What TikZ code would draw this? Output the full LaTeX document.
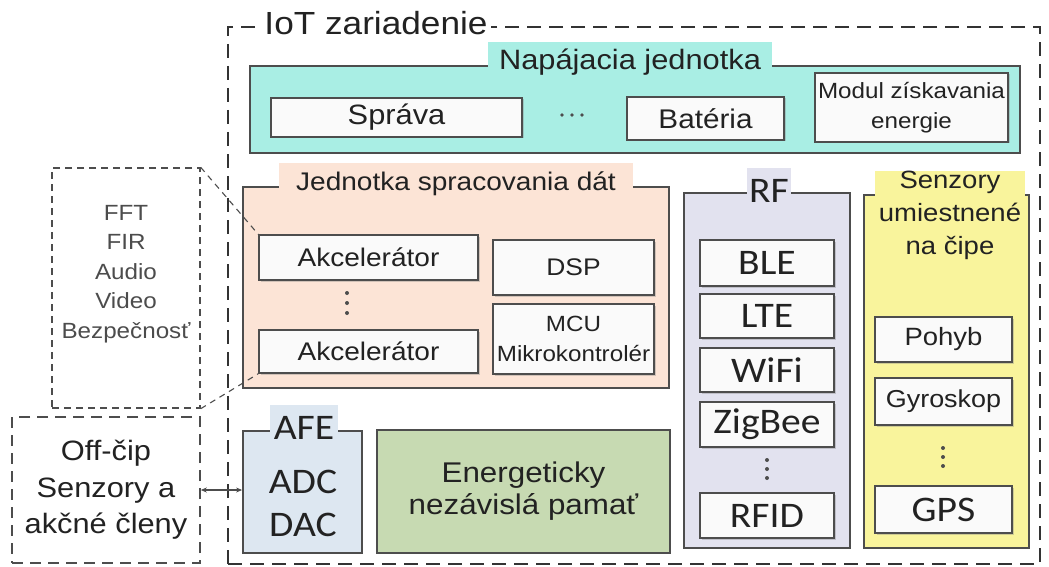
\documentclass[tikz,border=0pt]{standalone}
\usepackage{fontspec}
\setmainfont{Liberation Sans}[FakeStretch=1.1]
\newfontfamily\calib{Carlito}[FakeStretch=1.1]
\usetikzlibrary{arrows.meta,shadows}
\newcommand\fsz[2]{\fontsize{#1}{#2}\selectfont}
\definecolor{cyanF}{HTML}{A9EEE4}
\definecolor{peachF}{HTML}{FCE4D6}
\definecolor{lavF}{HTML}{E2E2EF}
\definecolor{yelF}{HTML}{F9F49C}
\definecolor{blueF}{HTML}{DDE7F1}
\definecolor{greenF}{HTML}{C7DAB2}
\definecolor{innerF}{HTML}{FAFAFA}
\definecolor{lineC}{HTML}{4D4D4D}
\definecolor{txtC}{HTML}{222222}
\tikzset{
  bigbox/.style={draw=lineC, line width=1.8pt, inner sep=0pt},
  inbox/.style={draw=lineC, line width=1.6pt, fill=innerF, inner sep=0pt,
     drop shadow={shadow xshift=1.5pt, shadow yshift=-1.5pt, opacity=0.35}},
  ttl/.style={inner ysep=0pt, text=txtC},
  dashbox/.style={draw=lineC, line width=1.4pt, dash pattern=on 7pt off 5pt, inner sep=0pt},
  dashlink/.style={draw=lineC, line width=1.1pt, dash pattern=on 6pt off 5pt},
  dotc/.style={fill=lineC}
}
\begin{document}
\begin{tikzpicture}[x=1pt,y=-1pt, every node/.style={text=txtC}]
\useasboundingbox (0,0) rectangle (1049,567);
% outer IoT box
\node[draw=black!80, line width=2.3pt, dash pattern=on 14pt off 8pt, minimum width=812pt, minimum height=537pt, inner sep=0pt] (iot) at (634,295.5) {};
\node[fill=white, font=\fsz{32}{36}, inner xsep=3pt, inner ysep=1pt] (iott) at (376,23) {IoT zariadenie};

% power unit
\node[bigbox, fill=cyanF, minimum width=770pt, minimum height=87pt] (power) at (635,109.5) {};
\node[ttl, fill=cyanF, font=\fsz{28}{32}, minimum height=40pt, inner xsep=11pt] (powert) at (630,62) {Napájacia jednotka};
\node[inbox, minimum width=251pt, minimum height=39pt, font=\fsz{28}{32}] (sprava) at (396.5,117.5) {Správa};
\fill[lineC] (562,115) circle (1.8pt) (572,115) circle (1.8pt) (582,115) circle (1.8pt);
\node[inbox, minimum width=157pt, minimum height=43pt, font=\fsz{27}{31}] (bateria) at (705.5,118.5) {Batéria};
\node[inbox, minimum width=193pt, minimum height=69pt, font=\fsz{22}{30}, align=center] (modul) at (911.5,107.5) {Modul získavania\\energie};

% data processing unit
\node[bigbox, fill=peachF, minimum width=426pt, minimum height=201pt] (dpu) at (456,287.5) {};
\node[ttl, fill=peachF, font=\fsz{25.5}{30}, minimum height=42pt, inner xsep=17pt] (dput) at (456,184) {Jednotka spracovania dát};
\node[inbox, minimum width=219pt, minimum height=45pt, font=\fsz{25.5}{30}] (akc1) at (368.5,257.5) {Akcelerátor};
\node[inbox, minimum width=219pt, minimum height=43pt, font=\fsz{25.5}{30}] (akc2) at (368.5,351.5) {Akcelerátor};
\fill[lineC] (347,293) circle (2pt) (347,303) circle (2pt) (347,313) circle (2pt);
\node[inbox, minimum width=161pt, minimum height=55pt, font=\fsz{24}{30}] (dsp) at (573.5,267.5) {DSP};
\node[inbox, minimum width=161pt, minimum height=70pt, font=\fsz{22}{30}, align=center] (mcu) at (573.5,339) {MCU\\Mikrokontrolér};

% RF
\node[bigbox, fill=lavF, minimum width=166pt, minimum height=355pt] (rf) at (767,370.5) {};
\node[ttl, fill=lavF, font=\calib\fsz{36}{40}, minimum height=46pt, inner xsep=2pt] (rft) at (769,191) {RF};
\node[inbox, minimum width=134pt, minimum height=46pt, font=\calib\fsz{36}{40}] (ble) at (767,263) {BLE};
\node[inbox, minimum width=134pt, minimum height=44pt, font=\calib\fsz{36}{40}] (lte) at (767,316) {LTE};
\node[inbox, minimum width=134pt, minimum height=44pt, font=\calib\fsz{36}{40}] (wifi) at (767,370) {WiFi};
\node[inbox, minimum width=134pt, minimum height=45pt, font=\calib\fsz{36}{40}] (zigbee) at (767,424.5) {ZigBee};
\fill[lineC] (767,460) circle (2pt) (767,469) circle (2pt) (767,478) circle (2pt);
\node[inbox, minimum width=134pt, minimum height=45pt, font=\calib\fsz{36}{40}] (rfid) at (767,515.5) {RFID};

% on-chip sensors
\node[bigbox, fill=yelF, minimum width=165pt, minimum height=353pt] (sens) at (946.5,371.5) {};
\node[ttl, fill=yelF, font=\fsz{25}{33}, align=center, inner xsep=4pt] (senst) at (950,215) {Senzory\\umiestnené\\na čipe};
\node[inbox, minimum width=137pt, minimum height=45pt, font=\fsz{25}{30}] (pohyb) at (943.5,339.5) {Pohyb};
\node[inbox, minimum width=137pt, minimum height=47pt, font=\fsz{24.5}{30}] (gyro) at (943.5,401.5) {Gyroskop};
\fill[lineC] (943,448) circle (2pt) (943,457) circle (2pt) (943,466) circle (2pt);
\node[inbox, minimum width=137pt, minimum height=47pt, font=\calib\fsz{36}{40}] (gps) at (943.5,509.5) {GPS};

% AFE
\node[bigbox, fill=blueF, minimum width=119pt, minimum height=122pt] (afe) at (302.5,492) {};
\node[ttl, fill=blueF, font=\calib\fsz{36}{40}, minimum height=46pt, inner xsep=4pt] (afet) at (304,428) {AFE};
\node[font=\calib\fsz{36}{43}, align=center, inner sep=0pt] (adc) at (303,503) {ADC\\DAC};

% non-volatile memory
\node[bigbox, fill=greenF, minimum width=293pt, minimum height=123pt, font=\fsz{28.5}{32}, align=center] (nvm) at (523.5,491.5) {Energeticky\\nezávislá pamať};

% FFT box
\node[dashbox, minimum width=148pt, minimum height=240pt] (fft) at (126,288) {};
\node[font=\fsz{22}{29.5}, align=center, text=black!70, inner sep=0pt] (fftt) at (126,274) {FFT\\FIR\\Audio\\Video\\Bezpečnosť};
\draw[dashlink] (fft.north east) -- (akc1.north west);
\draw[dashlink] (fft.south east) -- (akc2.south west);

% off-chip box
\node[draw=lineC, line width=1.6pt, dash pattern=on 11pt off 7pt, inner sep=0pt, minimum width=188pt, minimum height=146pt, font=\fsz{28}{36.5}, align=center] (off) at (106,490) {Off-čip\\Senzory a\\akčné členy};
\draw[lineC, line width=1.3pt, {Stealth[length=6pt,width=5pt]}-{Stealth[length=6pt,width=5pt]}] (off.east) -- (off.east -| afe.west);
\end{tikzpicture}
\end{document}
